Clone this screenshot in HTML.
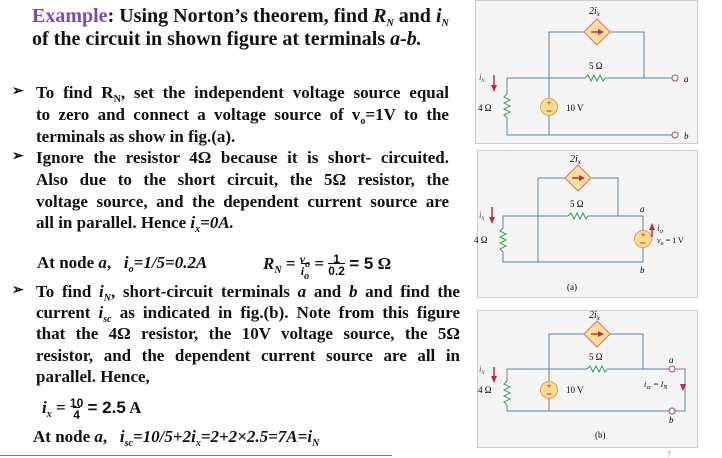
<!DOCTYPE html>
<html><head><meta charset="utf-8"><style>
body{margin:0;width:722px;height:458px;background:#fff;position:relative;overflow:hidden;font-family:"Liberation Serif",serif;font-weight:bold;color:#111}
.l{position:absolute;font-size:17px;line-height:20px;white-space:nowrap}
.j{text-align:justify;text-align-last:justify;white-space:normal}
.b{position:absolute;left:12px;font-size:14px}
i{font-style:italic}
sub{font-size:10px;vertical-align:-4px;line-height:0}
.s{font-family:"Liberation Sans",sans-serif}
svg{font-weight:normal}
</style></head><body>
<div class="l" style="left:32px;top:5px;font-size:20px;line-height:22px"><span style="color:#7a48b8">Example</span>: Using Norton’s theorem, find <i>R<sub>N</sub></i> and <i>i<sub>N</sub></i></div>
<div class="l" style="left:32px;top:28px;font-size:20px;line-height:22px">of the circuit in shown figure at terminals <i>a-b.</i></div>

<div class="b" style="top:83px">➢</div>
<div class="l j" style="left:36px;top:83px;width:413px">To find R<sub>N</sub>, set the independent voltage source equal</div>
<div class="l j" style="left:36px;top:105px;width:413px">to zero and connect a voltage source of v<sub>o</sub>=1V to the</div>
<div class="l" style="left:36px;top:127px">terminals as show in fig.(a).</div>
<div class="b" style="top:148px">➢</div>
<div class="l j" style="left:36px;top:148px;width:413px">Ignore the resistor 4Ω because it is short- circuited.</div>
<div class="l j" style="left:36px;top:170px;width:413px">Also due to the short circuit, the 5Ω resistor, the</div>
<div class="l j" style="left:36px;top:192px;width:413px">voltage source, and the dependent current source are</div>
<div class="l" style="left:36px;top:213px">all in parallel. Hence <i>i<sub>x</sub>=0A.</i></div>

<div class="l" style="left:37px;top:253px">At node <i>a</i>, &nbsp;&nbsp;<i>i<sub>o</sub>=1/5=0.2A</i></div>
<div class="l" style="left:263px;top:253px"><i>R<sub>N</sub></i> = <span style="display:inline-block;vertical-align:middle;text-align:center;font-size:12px;line-height:12px"><i>v<sub>o</sub></i><br><span style="border-top:1px solid #111"><i>i<sub>o</sub></i></span></span> = <span class="s" style="display:inline-block;vertical-align:middle;text-align:center;font-size:12px;line-height:12px">1<br><span style="border-top:1px solid #111">0.2</span></span> <span class="s">= 5</span> Ω</div>
<div class="b" style="top:282px">➢</div>
<div class="l j" style="left:36px;top:282px;width:424px">To find <i>i<sub>N</sub></i>, short-circuit terminals <i>a</i> and <i>b</i> and find the</div>
<div class="l j" style="left:36px;top:303px;width:424px">current <i>i<sub>sc</sub></i> as indicated in fig.(b). Note from this figure</div>
<div class="l j" style="left:36px;top:324px;width:424px">that the 4Ω resistor, the 10V voltage source, the 5Ω</div>
<div class="l j" style="left:36px;top:346px;width:424px">resistor, and the dependent current source are all in</div>
<div class="l" style="left:36px;top:367px">parallel. Hence,</div>
<div class="l" style="left:42px;top:397px"><i>i<sub>x</sub></i> = <span class="s" style="display:inline-block;vertical-align:middle;text-align:center;font-size:12px;line-height:12px">10<br><span style="border-top:1px solid #111">4</span></span> <span class="s">= 2.5</span> A</div>
<div class="l" style="left:33px;top:427px">At node <i>a</i>, &nbsp;&nbsp;<i>i<sub>sc</sub>=10/5+2i<sub>x</sub>=2+2×2.5=7A=i<sub>N</sub></i></div>
<div style="position:absolute;left:0;top:455px;width:392px;height:1px;background:#4f7fb0"></div>

<svg width="722" height="458" style="position:absolute;left:0;top:0" font-family="Liberation Serif,serif" font-size="9">
<defs>
<g id="res"><polyline points="0,0 3,-3 6,3 9,-3 12,3 15,-3 18,3 20,0" fill="none" stroke="#3a9a5a" stroke-width="1"/></g>
<g id="resv"><polyline points="0,0 -3,3 3,6 -3,9 3,12 -3,15 3,18 -3,21 0,24" fill="none" stroke="#3a9a5a" stroke-width="1"/></g>
<g id="dia"><polygon points="-13,0 0,-13 13,0 0,13" fill="#fbe0a0" stroke="#e07060"/><line x1="-6" y1="0" x2="3" y2="0" stroke="#c8283c" stroke-width="1.5"/><polygon points="7,0 1,-3 1,3" fill="#c8283c"/></g>
<g id="vs"><circle r="8.5" fill="#fbdc90" stroke="#e8a040"/><text x="0" y="-1" font-size="9" text-anchor="middle" font-family="Liberation Sans" fill="#c03040">+</text><line x1="-2.5" y1="4" x2="2.5" y2="4" stroke="#c03040"/></g>
</defs>
<g fill="none" stroke="#5a86aa" stroke-width="1">
<rect x="475.5" y="0.5" width="222" height="143" fill="#f4f4f4" stroke="#ccc"/>
<polyline points="549,135 549,32 644,32 644,78"/>
<line x1="507" y1="78" x2="672" y2="78"/>
<line x1="507" y1="78" x2="507" y2="135"/>
<line x1="507" y1="135" x2="672" y2="135"/>
<rect x="477.5" y="150.5" width="220" height="147" fill="#f4f4f4" stroke="#ccc"/>
<polyline points="538,262 538,178 618,178 618,216"/>
<rect x="503" y="216" width="140" height="46"/>
<rect x="477.5" y="310.5" width="220" height="137" fill="#f4f4f4" stroke="#ccc"/>
<polyline points="549,411 549,334 643,334 643,369"/>
<line x1="507" y1="369" x2="672" y2="369"/>
<line x1="507" y1="369" x2="507" y2="411"/>
<line x1="507" y1="411" x2="672" y2="411"/>
<polyline points="675,369 685,369 685,411 675,411"/>
</g>
<rect x="585" y="74" width="20" height="8" fill="#f4f4f4"/><use href="#res" x="585" y="78"/>
<rect x="503" y="94" width="8" height="24" fill="#f4f4f4"/><use href="#resv" x="507" y="94"/>
<use href="#dia" x="597" y="32"/><use href="#vs" x="549" y="107"/>
<circle cx="675" cy="78" r="3" fill="#fff" stroke="#c04050"/><circle cx="675" cy="135" r="3" fill="#fff" stroke="#c04050"/>
<text x="684" y="82" font-style="italic">a</text><text x="684" y="139" font-style="italic">b</text>
<text x="589" y="14" font-style="italic" font-size="10">2i<tspan font-size="7" dy="2">x</tspan></text>
<text x="589" y="69">5 Ω</text><text x="478" y="111">4 Ω</text><text x="566" y="111">10 V</text>
<text x="479" y="80" font-style="italic" fill="#555">i<tspan font-size="7" dy="2">x</tspan></text>
<line x1="494" y1="75" x2="494" y2="86" stroke="#c8283c" stroke-width="1.5"/><polygon points="494,92 491,85 497,85" fill="#c8283c"/>
<rect x="568" y="212" width="20" height="8" fill="#f4f4f4"/><use href="#res" x="568" y="216"/>
<rect x="499" y="228" width="8" height="24" fill="#f4f4f4"/><use href="#resv" x="503" y="228"/>
<use href="#dia" x="578" y="178"/><use href="#vs" x="643" y="239"/>
<text x="570" y="162" font-style="italic" font-size="10">2i<tspan font-size="7" dy="2">x</tspan></text>
<text x="570" y="207">5 Ω</text><text x="474" y="243">4 Ω</text>
<text x="640" y="212" font-style="italic">a</text><text x="640" y="273" font-style="italic">b</text>
<text x="479" y="218" font-style="italic" fill="#555">i<tspan font-size="7" dy="2">x</tspan></text>
<line x1="492" y1="207" x2="492" y2="218" stroke="#c8283c" stroke-width="1.5"/><polygon points="492,224 489,217 495,217" fill="#c8283c"/>
<line x1="652" y1="229" x2="652" y2="237" stroke="#c8283c" stroke-width="1.5"/><polygon points="652,223 649,230 655,230" fill="#c8283c"/>
<text x="657" y="231" font-style="italic">i<tspan font-size="7" dy="2">o</tspan></text>
<text x="657" y="243" font-size="8"><tspan font-style="italic">v<tspan font-size="6" dy="2">o</tspan></tspan><tspan dy="-2"> = 1 V</tspan></text>
<text x="567" y="290">(a)</text>
<rect x="587" y="365" width="20" height="8" fill="#f4f4f4"/><use href="#res" x="587" y="369"/>
<rect x="503" y="381" width="8" height="24" fill="#f4f4f4"/><use href="#resv" x="507" y="381"/>
<use href="#dia" x="597" y="334"/><use href="#vs" x="549" y="390"/>
<circle cx="672" cy="369" r="3" fill="#fff" stroke="#c04050"/><circle cx="672" cy="411" r="3" fill="#fff" stroke="#c04050"/>
<text x="589" y="318" font-style="italic" font-size="10">2i<tspan font-size="7" dy="2">x</tspan></text>
<text x="589" y="360">5 Ω</text><text x="478" y="393">4 Ω</text><text x="566" y="393">10 V</text>
<text x="669" y="363" font-style="italic">a</text><text x="669" y="423" font-style="italic">b</text>
<text x="644" y="387" font-size="8" font-style="italic">i<tspan font-size="6" dy="2">sc</tspan><tspan dy="-2"> = I</tspan><tspan font-size="6" dy="2">N</tspan></text>
<polygon points="683,391 680,384 686,384" fill="#c8283c"/>
<text x="479" y="372" font-style="italic" fill="#555">i<tspan font-size="7" dy="2">x</tspan></text>
<line x1="494" y1="367" x2="494" y2="377" stroke="#c8283c" stroke-width="1.5"/><polygon points="494,383 491,376 497,376" fill="#c8283c"/>
<text x="595" y="438">(b)</text>
<text x="667" y="457" font-size="8" fill="#777">7</text>
</svg>
</body></html>
